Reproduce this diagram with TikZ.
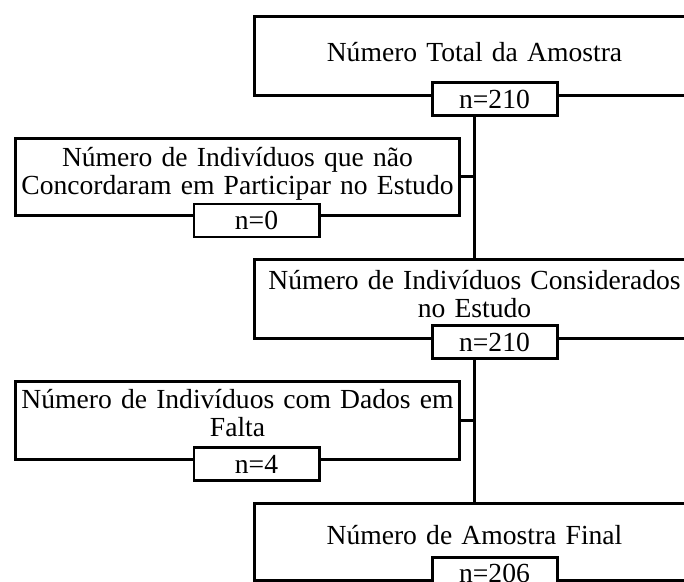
\documentclass[tikz,border=0pt]{standalone}
\usepackage{fontspec}
\setmainfont{Liberation Serif}

\begin{document}
\begin{tikzpicture}[scale=0.2,
		bigbox/.style={draw=black, line width=1.7pt, anchor=north west, align=center},
		nbox/.style={draw=black, fill=white, line width=1.7pt, minimum width=2.5cm, minimum height=0.66cm},
		link/.style={draw=black, line width=1.7pt}]
			\tikzstyle{every node}+=[inner sep=0pt, font=\fontsize{15.7pt}{15.9pt}\selectfont]
			\useasboundingbox (0,0) rectangle (68.4,-58.1);
			\clip (0,0) rectangle (68.4,-58.1);
			% main column
			\node [bigbox, text width=8.8cm, text height=0.9cm, text depth=0.68cm] (total) at (25.3,-1.5) {Número Total da Amostra};
			\node [bigbox, text width=8.8cm, text height=0.6cm, text depth=0.98cm] (considerados) at (25.3,-25.8) {Número de Indivíduos Considerados\\no Estudo};
			\node [bigbox, text width=8.8cm, text height=0.82cm, text depth=0.72cm] (final) at (25.3,-50.2) {Número de Amostra Final};
			% exclusions
			\node [bigbox, text width=8.88cm, text height=0.56cm, text depth=0.98cm] (recusa) at (1.4,-13.7) {Número de Indivíduos que não\\Concordaram em Participar no Estudo};
			\node [bigbox, text width=8.88cm, text height=0.54cm, text depth=1.02cm] (falta) at (1.4,-38.0) {Número de Indivíduos com Dados em\\Falta};
			% connectors
			\draw [link] (total.south) -- (considerados.north);
			\draw [link] (considerados.south) -- (final.north);
			\draw [link] (recusa.east) -- (recusa.east -| total.south);
			\draw [link] (falta.east) -- (falta.east -| total.south);
			% counts
			\node [nbox] (ntotal) at (49.45,-9.9) {n=210};
			\node [nbox] (nrecusa) at (25.65,-22.05) {n=0};
			\node [nbox] (nconsiderados) at (49.45,-34.2) {n=210};
			\node [nbox] (nfalta) at (25.65,-46.4) {n=4};
			\node [nbox] (nfinal) at (49.45,-57.35) {n=206};
		\end{tikzpicture}
\end{document}
